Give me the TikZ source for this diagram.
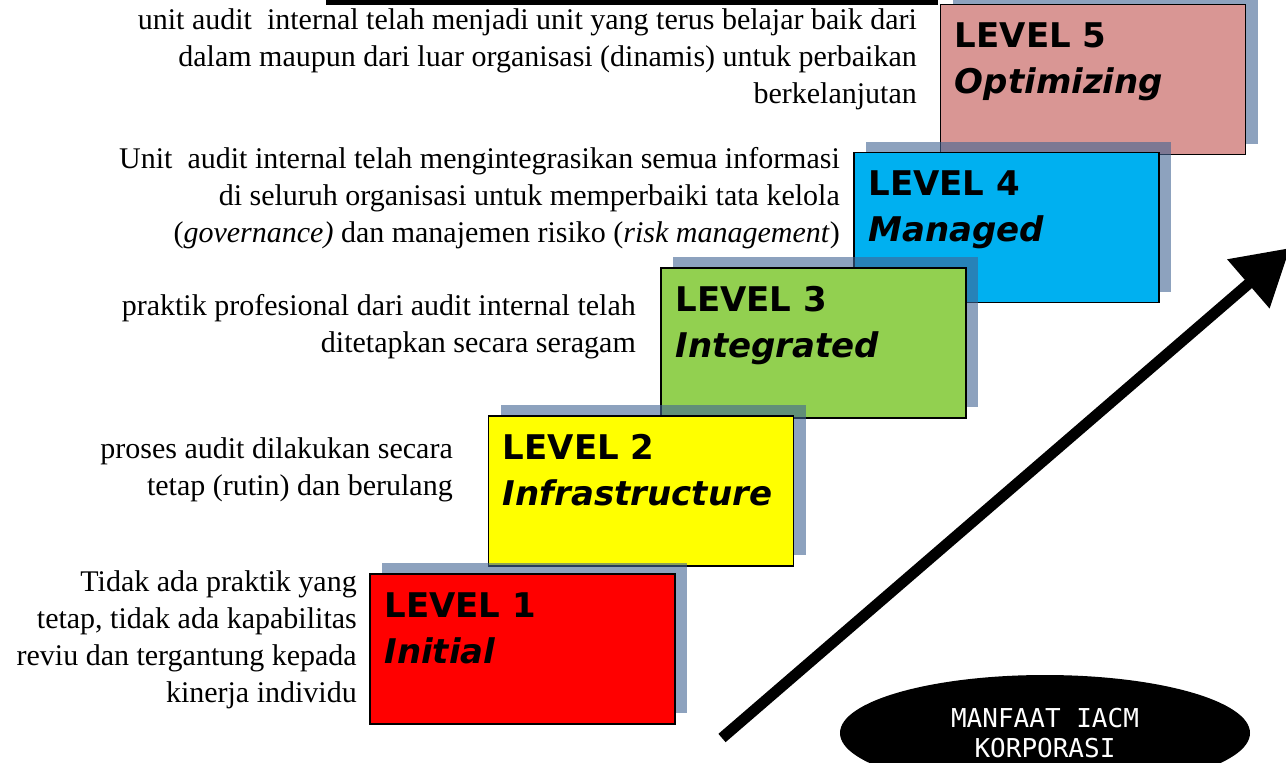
\documentclass[tikz,border=0pt]{standalone}
\usepackage{fontspec}
\usepackage{xcolor}
\setmainfont{Liberation Serif}
\newfontfamily\boxfont{DejaVu Sans}
\newfontfamily\ovalfont{DejaVu Sans Mono}
\usetikzlibrary{shapes.geometric,shadows,arrows.meta}

\definecolor{lvred}{RGB}{255,0,0}
\definecolor{lvyellow}{RGB}{255,255,0}
\definecolor{lvgreen}{RGB}{146,208,80}
\definecolor{lvblue}{RGB}{0,176,240}
\definecolor{lvpink}{RGB}{217,150,148}
\definecolor{shadowblue}{RGB}{65,100,147}

\begin{document}
\begin{tikzpicture}[x=1pt,y=-1pt,
  level box/.style={draw=black,line width=1.5pt,minimum width=305pt,minimum height=150pt,inner sep=0pt,
    general shadow={fill=shadowblue,opacity=0.6,shadow xshift=12pt,shadow yshift=11pt}},
  level text/.style={anchor=north west,align=left,inner sep=0pt,
    font=\boxfont\bfseries\fontsize{34}{46}\selectfont},
  desc/.style={anchor=east,align=right,inner sep=0pt,font=\fontsize{30}{37}\selectfont}]

  \useasboundingbox (0,0) rectangle (1286,763);
  \clip (0,0) rectangle (1286,763);
  \fill[white] (0,0) rectangle (1286,763);
  \fill[black] (326,-2) rectangle (938,5);

  \node[level box,fill=lvpink] (l5) at (1093,79.5) {};
  \node[level text] (t5) at ([xshift=15pt,yshift=-19pt]l5.north west) {LEVEL 5\\\textit{Optimizing}};
  \node[level box,fill=lvblue] (l4) at (1006.5,227.5) {};
  \node[level text] (t4) at ([xshift=15pt,yshift=-19pt]l4.north west) {LEVEL 4\\\textit{Managed}};
  \node[level box,fill=lvgreen] (l3) at (813.5,343) {};
  \node[level text] (t3) at ([xshift=15pt,yshift=-19pt]l3.north west) {LEVEL 3\\\textit{Integrated}};
  \node[level box,fill=lvyellow] (l2) at (641,491) {};
  \node[level text] (t2) at ([xshift=15pt,yshift=-19pt]l2.north west) {LEVEL 2\\\textit{Infrastructure}};
  \node[level box,fill=lvred] (l1) at (522.5,649) {};
  \node[level text] (t1) at ([xshift=15pt,yshift=-19pt]l1.north west) {LEVEL 1\\\textit{Initial}};

  \node[desc] (d5) at (917,59) {unit audit \ internal telah menjadi unit yang terus belajar baik dari\\
    dalam maupun dari luar organisasi (dinamis) untuk perbaikan\\berkelanjutan};
  \node[desc] (d4) at (840,198) {Unit \ audit internal telah mengintegrasikan semua informasi\\
    di seluruh organisasi untuk memperbaiki tata kelola\\
    (\textit{governance)} dan manajemen risiko (\textit{risk management})};
  \node[desc] (d3) at (636,327) {praktik profesional dari audit internal telah\\ditetapkan secara seragam};
  \node[desc] (d2) at (453,470) {proses audit dilakukan secara\\tetap (rutin) dan berulang};
  \node[desc] (d1) at (357,640) {Tidak ada praktik yang\\tetap, tidak ada kapabilitas\\
    reviu dan tergantung kepada\\kinerja individu};

  \coordinate (arrow tail) at (722,738);
  \coordinate (arrow tip) at (1290,248);
  \draw[line width=11pt,-{Triangle[length=55pt,width=62pt]}] (arrow tail) -- (arrow tip);

  \node[ellipse,fill=black,minimum width=410pt,minimum height=116pt,inner sep=0pt,
    text=white,align=center,font=\ovalfont\fontsize{26}{30}\selectfont] (benefit) at (1045,733)
    {MANFAAT IACM\\KORPORASI};
\end{tikzpicture}
\end{document}
